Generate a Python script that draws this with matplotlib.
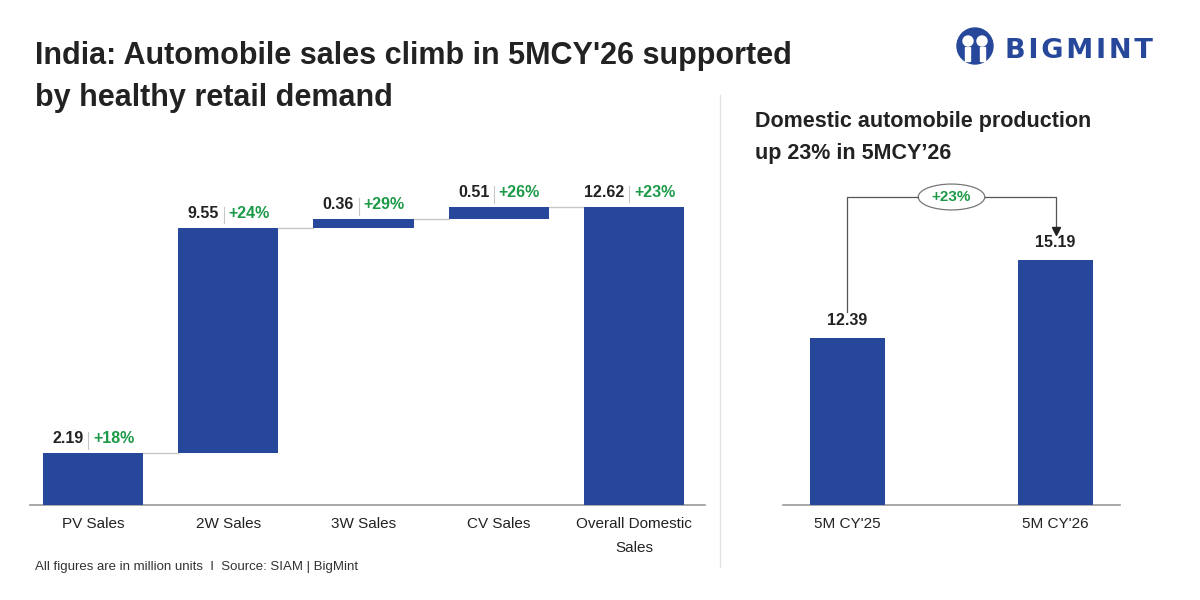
import matplotlib.pyplot as plt
import numpy as np
from matplotlib.patches import Ellipse, Circle

plt.rcParams['font.family'] = ['Liberation Sans', 'DejaVu Sans']

# данные
categories = ['PV Sales', '2W Sales', '3W Sales', 'CV Sales', 'Overall Domestic\nSales']
values = [2.19, 9.55, 0.36, 0.51, 12.62]
growth = ['+18%', '+24%', '+29%', '+26%', '+23%']

prod_labels = ["5M CY'25", "5M CY'26"]
prod_values = [12.39, 15.19]
prod_growth = '+23%'

blue = '#26479a'
green = '#1c9a48'
dark = '#222222'
grey = '#c8c8c8'

fig = plt.figure(figsize=(12, 6), dpi=100)
fig.patch.set_facecolor('white')

# waterfall слева
ax = fig.add_axes([30 / 1200, 1 - 505 / 600, 675 / 1200, 330 / 600])
x = np.arange(len(values))
bottoms = []
cum = 0
for i, v in enumerate(values):
    if i == len(values) - 1:
        bottoms.append(0)
    else:
        bottoms.append(cum)
        cum += v
ax.bar(x, values, bottom=bottoms, width=0.74, color=blue, zorder=3)

# соединительные линии
for i in range(len(values) - 1):
    level = bottoms[i] + values[i]
    ax.plot([x[i] + 0.37, x[i + 1] - 0.37], [level, level], color=grey, lw=1, zorder=2)

# подписи значений
for i, v in enumerate(values):
    top = bottoms[i] + v
    ax.annotate(f'{v:.2f}', (x[i] - 0.07, top), xytext=(0, 5), textcoords='offset points',
                ha='right', va='bottom', fontsize=11.5, fontweight='bold', color=dark)
    ax.annotate(growth[i], (x[i] + 0.0, top), xytext=(0, 5), textcoords='offset points',
                ha='left', va='bottom', fontsize=11.5, fontweight='bold', color=green)
    ax.plot([x[i] - 0.035, x[i] - 0.035], [top + 0.2, top + 0.9], color=grey, lw=0.8)

ax.set_xlim(-0.466, 4.525)
ax.set_ylim(0, 13.98)
ax.set_xticks(x)
ax.set_xticklabels(categories, fontsize=11, color=dark, linespacing=1.9, va='top')
ax.tick_params(axis='x', length=0, pad=9)
ax.set_yticks([])
for s in ['top', 'right', 'left']:
    ax.spines[s].set_visible(False)
ax.spines['bottom'].set_color('#999999')
ax.spines['bottom'].set_linewidth(1.2)
ax.set_facecolor('none')

# производство справа
ax2 = fig.add_axes([783 / 1200, 1 - 505 / 600, 337 / 1200, 330 / 600])
x2 = np.arange(len(prod_values))
ax2.bar(x2, prod_values, width=0.36, color=blue, zorder=3)
for i, v in enumerate(prod_values):
    ax2.annotate(f'{v:.2f}', (x2[i], v), xytext=(0, 7), textcoords='offset points',
                 ha='center', va='bottom', fontsize=11.5, fontweight='bold', color=dark)

bracket = max(prod_values) + 2.27
mid = (x2[0] + x2[1]) / 2
ell_w, ell_h = 0.32, 0.93
ax2.plot([x2[0], x2[0], mid - ell_w / 2], [prod_values[0] + 0.95, bracket, bracket], color='#555555', lw=0.9)
ax2.plot([mid + ell_w / 2, x2[1], x2[1]], [bracket, bracket, prod_values[1] + 1.15], color='#555555', lw=0.9)
ax2.plot([x2[1]], [prod_values[1] + 1.05], marker='v', color='#222222', markersize=6)
ax2.add_patch(Ellipse((mid, bracket), ell_w, ell_h, facecolor='white', edgecolor='#777777', lw=0.9))
ax2.text(mid, bracket, prod_growth, ha='center', va='center', fontsize=11, fontweight='bold', color=green)

ax2.set_xlim(-0.31, 1.31)
ax2.set_ylim(6.4, 18.25)
ax2.set_xticks(x2)
ax2.set_xticklabels(prod_labels, fontsize=11, color=dark)
ax2.tick_params(axis='x', length=0, pad=9)
ax2.set_yticks([])
for s in ['top', 'right', 'left']:
    ax2.spines[s].set_visible(False)
ax2.spines['bottom'].set_color('#999999')
ax2.spines['bottom'].set_linewidth(1.2)
ax2.set_facecolor('none')

# разделитель
fig.add_artist(plt.Line2D([720 / 1200, 720 / 1200], [1 - 95 / 600, 1 - 567 / 600], color='#e3e3e3', lw=1))

# заголовки
fig.text(35 / 1200, 1 - 64 / 600, "India: Automobile sales climb in 5MCY'26 supported",
         fontsize=22, fontweight='bold', color=dark, va='baseline')
fig.text(35 / 1200, 1 - 106 / 600, "by healthy retail demand",
         fontsize=22, fontweight='bold', color=dark, va='baseline')
fig.text(755 / 1200, 1 - 127 / 600, "Domestic automobile production",
         fontsize=15.5, fontweight='bold', color=dark, va='baseline')
fig.text(755 / 1200, 1 - 159 / 600, "up 23% in 5MCY\u201926",
         fontsize=15.5, fontweight='bold', color=dark, va='baseline')
fig.text(35 / 1200, 1 - 570 / 600, "All figures are in million units  I  Source: SIAM | BigMint",
         fontsize=9.5, color='#333333', va='baseline')

# логотип
fig.text(1005 / 1200, 1 - 58 / 600, "\u200a".join("BIGMINT"), fontsize=19.5, fontweight='bold',
         color=blue, va='baseline', ha='left', family='DejaVu Sans')
lax = fig.add_axes([955 / 1200, 1 - 66 / 600, 40 / 1200, 40 / 600])
lax.set_xlim(0, 40)
lax.set_ylim(0, 40)
lax.set_aspect('equal')
lax.axis('off')
lax.add_patch(Circle((20, 20), 18, color=blue))
lax.add_patch(Circle((13, 25), 5, color='white'))
lax.add_patch(Circle((27, 25), 5, color='white'))
lax.add_patch(plt.Rectangle((10, 5), 5, 14, color='white'))
lax.add_patch(plt.Rectangle((25, 5), 5, 14, color='white'))

fig.savefig('out.png', dpi=100)
